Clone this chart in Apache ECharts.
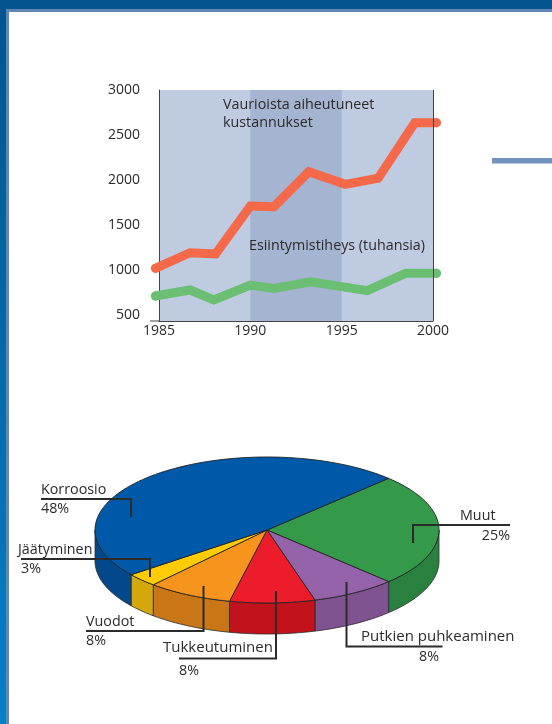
<!DOCTYPE html>
<html>
<head>
<meta charset="utf-8">
<title>Vauriot</title>
<script src="https://cdn.jsdelivr.net/npm/echarts@6/dist/echarts.min.js"></script>
<style>
    html, body { margin: 0; padding: 0; background: #fff; }
    #main { width: 552px; height: 724px; }
</style>
</head>
<body>
<div id="main"></div>
<script>
    // line chart data
    var costPoints = [[1984.8, 1019], [1986.7, 1192], [1988.1, 1178], [1990, 1711], [1991.3, 1703],
        [1993.2, 2092], [1995.2, 1952], [1997, 2019], [1999, 2637], [2000.2, 2637]];
    var frequencyPoints = [[1984.8, 711], [1986.7, 778], [1988, 667], [1990, 833], [1991.3, 796],
        [1993.3, 870], [1996.4, 770], [1998.5, 963], [2000.2, 963]];
    var xTicks = [1985, 1990, 1995, 2000];
    var yTicks = [500, 1000, 1500, 2000, 2500, 3000];

    // pie data, clockwise from the Muut slice
    var pieNames = ['Muut', 'Putkien puhkeaminen', 'Tukkeutuminen', 'Vuodot', 'Jäätyminen', 'Korroosio'];
    var pieValues = [25, 8, 8, 8, 3, 48];
    var pieTop = ['#349a4a', '#9563a9', '#ed1c2b', '#f7941e', '#ffcb05', '#0058a8'];
    var pieSide = ['#2a813f', '#7e5390', '#c2131c', '#c97716', '#d4a70b', '#03488a'];

    var fontName = '"Open Sans"';
    var textColor = '#2b2b2b';
    var lineColor = '#2b2b2b';

    // pie geometry
    var cx = 267, cy = 530, rx = 172, ry = 73, depth = 31, startDeg = -45;

    function arcPoints(a, b, dy) {
        var pts = [];
        var n = Math.max(2, Math.ceil(Math.abs(b - a) / 2));
        for (var i = 0; i <= n; i++) {
            var t = (a + (b - a) * i / n) * Math.PI / 180;
            pts.push([cx + rx * Math.cos(t), cy + dy + ry * Math.sin(t)]);
        }
        return pts;
    }

    function renderSlice(params, api) {
        var idx = params.dataIndex;
        var total = 0, before = 0;
        for (var i = 0; i < pieValues.length; i++) {
            total += pieValues[i];
            if (i < idx) before += pieValues[i];
        }
        var a = startDeg + before / total * 360;
        var b = a + api.value(0) / total * 360;
        var children = [];
        // side wall, only the front half can be seen
        var sa = Math.max(a, 0), sb = Math.min(b, 180);
        if (sb > sa) {
            children.push({
                type: 'polygon',
                shape: { points: arcPoints(sa, sb, 0).concat(arcPoints(sb, sa, depth)) },
                style: { fill: pieSide[idx], stroke: '#2a2a2a', lineWidth: 0.8 }
            });
        }
        children.push({
            type: 'polygon',
            shape: { points: [[cx, cy]].concat(arcPoints(a, b, 0)) },
            style: { fill: pieTop[idx], stroke: '#222', lineWidth: 0.9 }
        });
        return { type: 'group', children: children };
    }

    function label(text, x, y, size, align) {
        return {
            type: 'text', z: 100, silent: true,
            style: {
                text: text, x: x, y: y, fill: textColor,
                font: (size || 14.3) + 'px ' + fontName,
                textAlign: align || 'left', textVerticalAlign: 'middle'
            }
        };
    }

    function leader(points) {
        return {
            type: 'polyline', z: 99, silent: true,
            shape: { points: points },
            style: { stroke: lineColor, lineWidth: 2, fill: null }
        };
    }

    function rect(x, y, w, h, fill) {
        return { type: 'rect', z: 0, silent: true, shape: { x: x, y: y, width: w, height: h }, style: { fill: fill } };
    }

    // round ends of the thick lines
    function endDot(points) {
        return function (value, params) {
            return params.dataIndex === 0 || params.dataIndex === points.length - 1 ? 9 : 0;
        };
    }

    var sideGradient = new echarts.graphic.LinearGradient(0, 0, 0, 1, [
        { offset: 0, color: '#04548e' },
        { offset: 0.5, color: '#056aa6' },
        { offset: 1, color: '#0880c4' }
    ]);

    var chart = echarts.init(document.getElementById('main'));
    chart.setOption({
        animation: false,
        backgroundColor: '#fff',
        textStyle: { fontFamily: fontName },
        grid: {
            left: 159, top: 90, width: 274, height: 231,
            show: true, backgroundColor: '#bfcbe0', borderWidth: 0
        },
        xAxis: {
            type: 'value', min: 1985, max: 2000,
            splitLine: { show: false },
            axisTick: { show: false },
            axisLine: { show: true, lineStyle: { color: '#444', width: 1 } },
            axisLabel: {
                customValues: xTicks, margin: 3,
                formatter: function (v) { return String(v); },
                color: textColor, fontSize: 14, fontFamily: fontName,
                showMinLabel: true, showMaxLabel: true
            }
        },
        yAxis: {
            type: 'value', min: 433.33, max: 3000,
            splitLine: { show: false },
            axisTick: { show: false },
            axisLine: { show: true, onZero: false, lineStyle: { color: '#444', width: 1 } },
            axisLabel: {
                customValues: yTicks, margin: 19,
                formatter: function (v) { return String(v); },
                color: textColor, fontSize: 14, fontFamily: fontName
            }
        },
        graphic: {
            elements: [
                rect(0, 0, 6, 724, sideGradient),
                rect(0, 0, 552, 9, '#04548e'),
                rect(6, 9, 3, 715, '#5f86b5'),
                rect(6, 9, 546, 3, '#5f86b5'),
                rect(492, 158, 60, 5.5, '#7094bf'),
                { type: 'line', z: 5, silent: true, shape: { x1: 150, y1: 321, x2: 159, y2: 321 }, style: { stroke: '#444', lineWidth: 1 } },
                label('Vaurioista aiheutuneet', 223, 105),
                label('kustannukset', 223, 123),
                label('Esiintymistiheys (tuhansia)', 249, 246),
                leader([[41, 499], [131, 499], [131, 517]]),
                label(pieNames[5], 41, 490),
                label(pieValues[5] + '%', 41, 509),
                leader([[21, 559], [150, 559], [150, 577]]),
                label(pieNames[4], 18, 550),
                label(pieValues[4] + '%', 21, 569),
                leader([[86, 631], [203.5, 631], [203.5, 586]]),
                label(pieNames[3], 86, 622),
                label(pieValues[3] + '%', 86, 641),
                leader([[179, 658.5], [276, 658.5], [276, 591]]),
                label(pieNames[2], 163, 648, 15),
                label(pieValues[2] + '%', 179, 671),
                leader([[346.5, 582], [346.5, 646.5], [442.5, 646.5]]),
                label(pieNames[1], 361, 637, 15),
                label(pieValues[1] + '%', 419, 657),
                leader([[413, 543], [413, 525], [510, 525]]),
                label(pieNames[0], 460, 516),
                label(pieValues[0] + '%', 510, 536, 14.3, 'right')
            ]
        },
        series: [
            {
                type: 'line', name: 'Vaurioista aiheutuneet kustannukset',
                data: costPoints, clip: false, z: 3,
                showSymbol: true, showAllSymbol: true, symbol: 'circle', symbolSize: endDot(costPoints),
                itemStyle: { color: '#f4694a' },
                lineStyle: { color: '#f4694a', width: 9, cap: 'round', join: 'miter' },
                markArea: {
                    silent: true,
                    itemStyle: { color: '#a4b4d1' },
                    data: [[{ xAxis: 1990 }, { xAxis: 1995 }]]
                },
                markLine: {
                    silent: true, symbol: 'none', label: { show: false },
                    lineStyle: { color: '#444', width: 1, type: 'solid' },
                    data: [{ xAxis: 2000 }]
                }
            },
            {
                type: 'line', name: 'Esiintymistiheys (tuhansia)',
                data: frequencyPoints, clip: false, z: 3,
                showSymbol: true, showAllSymbol: true, symbol: 'circle', symbolSize: endDot(frequencyPoints),
                itemStyle: { color: '#6abf73' },
                lineStyle: { color: '#6abf73', width: 9, cap: 'round', join: 'miter' }
            },
            {
                type: 'custom', coordinateSystem: 'none', silent: true,
                renderItem: renderSlice,
                data: pieValues.map(function (v) { return [v]; })
            }
        ]
    });
</script>
</body>
</html>
